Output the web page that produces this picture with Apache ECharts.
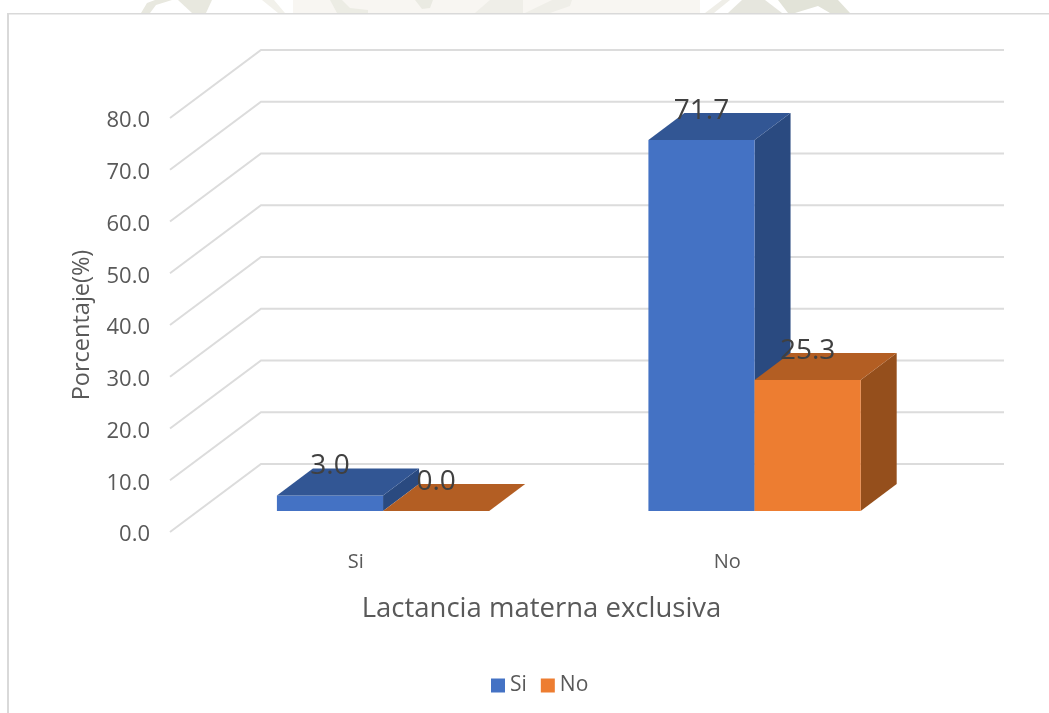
<!DOCTYPE html>
<html>
<head>
<meta charset="utf-8">
<style>html,body{margin:0;padding:0;background:#fff}#chart{width:1049px;height:713px}</style>
<script src="https://cdn.jsdelivr.net/npm/echarts@6/dist/echarts.min.js"></script>
</head>
<body>
<div id="chart"></div>
<script>
// Lactancia materna exclusiva: porcentaje por grupo
const categories = ['Si', 'No'];
const siValues = [3.0, 71.7];
const noValues = [0.0, 25.3];
const valueTicks = [0, 10, 20, 30, 40, 50, 60, 70, 80];

const FONT = '"Open Sans", sans-serif';
// Oblique projection of the box: floor depth, and where the bars stand on it
const WALL_DX = 91, WALL_DY = -68;
const BAR_DX = 27.3, BAR_DY = -21;
const BOX_DX = 36, BOX_DY = -27;
const BAR_SHARE = 0.2857;

function wallLines(params, api) {
  const sys = params.coordSys;
  const y = api.coord([0, api.value(1)])[1];
  return {
    type: 'polyline',
    silent: true,
    shape: {points: [
      [sys.x, y],
      [sys.x + WALL_DX, y + WALL_DY],
      [sys.x + sys.width + WALL_DX, y + WALL_DY]
    ]},
    style: {fill: 'none', stroke: '#dcdcdc', lineWidth: 2}
  };
}

// side: 0 draws the bar left of the category centre, 1 to the right of it
function boxBars(side, front, top, flank) {
  return function (params, api) {
    const base = api.coord([api.value(0), 0]);
    const head = api.coord([api.value(0), api.value(1)]);
    const w = api.size([1, 0])[0] * BAR_SHARE;
    const x0 = base[0] + BAR_DX + (side - 1) * w;
    const x1 = x0 + w;
    const yb = base[1] + BAR_DY;
    const yt = head[1] + BAR_DY;
    const poly = (points, fill) => ({type: 'polygon', shape: {points}, style: {fill}});
    const children = [];
    if (yb - yt > 0) {
      children.push(poly([[x1, yb], [x1 + BOX_DX, yb + BOX_DY], [x1 + BOX_DX, yt + BOX_DY], [x1, yt]], flank));
      children.push(poly([[x0, yb], [x1, yb], [x1, yt], [x0, yt]], front));
    }
    children.push(poly([[x0, yt], [x1, yt], [x1 + BOX_DX, yt + BOX_DY], [x0 + BOX_DX, yt + BOX_DY]], top));
    children.push({
      type: 'text',
      z2: 10,
      style: {
        x: (x0 + x1) / 2,
        y: yt - 29,
        text: api.value(1).toFixed(1),
        font: '28px ' + FONT,
        fill: '#404040',
        align: 'center',
        verticalAlign: 'middle'
      }
    });
    return {type: 'group', children};
  };
}

const chart = echarts.init(document.getElementById('chart'), null, {renderer: 'canvas'});

const faint = (points, fill) => ({type: 'polygon', silent: true, z: -1, shape: {points}, style: {fill}});

chart.setOption({
  animation: false,
  backgroundColor: '#ffffff',
  textStyle: {fontFamily: FONT},
  grid: {left: 170, top: 118, width: 743, height: 414, containLabel: false},
  legend: {
    data: ['Si', 'No'],
    left: 486,
    top: 670,
    icon: 'rect',
    itemWidth: 14,
    itemHeight: 14,
    itemGap: 14,
    textStyle: {fontFamily: FONT, fontSize: 21, color: '#595959'}
  },
  xAxis: {
    type: 'category',
    data: categories,
    axisLine: {show: false},
    axisTick: {show: false},
    axisLabel: {fontFamily: FONT, fontSize: 20, color: '#595959', margin: 20},
    name: 'Lactancia materna exclusiva',
    nameLocation: 'middle',
    nameGap: 63,
    nameTextStyle: {fontFamily: FONT, fontSize: 27.5, color: '#595959'},
    splitLine: {show: false}
  },
  yAxis: {
    type: 'value',
    min: 0,
    max: 80,
    interval: 10,
    axisLine: {show: false},
    axisTick: {show: false},
    splitLine: {show: false},
    axisLabel: {
      fontFamily: FONT, fontSize: 22, color: '#595959', margin: 20,
      verticalAlign: 'top',
      lineHeight: 6,
      formatter: v => v.toFixed(1)
    },
    name: 'Porcentaje(%)',
    nameLocation: 'middle',
    nameRotate: 90,
    nameGap: 76,
    nameTextStyle: {fontFamily: FONT, fontSize: 23.5, color: '#595959'}
  },
  series: [
    {
      name: 'wall',
      type: 'custom',
      silent: true,
      z: 1,
      renderItem: wallLines,
      data: valueTicks.map(t => [0, t])
    },
    {
      name: 'Si',
      type: 'custom',
      z: 2,
      itemStyle: {color: '#4472c4'},
      renderItem: boxBars(0, '#4472c4', '#325694', '#2a4a80'),
      encode: {x: 0, y: 1},
      data: siValues.map((v, i) => [i, v])
    },
    {
      name: 'No',
      type: 'custom',
      z: 3,
      itemStyle: {color: '#ed7d31'},
      renderItem: boxBars(1, '#ed7d31', '#b35e23', '#954f1c'),
      encode: {x: 0, y: 1},
      data: noValues.map((v, i) => [i, v])
    }
  ],
  graphic: [
    // Faded crest behind the chart panel, cut off by its top edge
    faint([[293, 0], [700, 0], [700, 13], [293, 13]], '#f8f6f2'),
    faint([[141, 13], [147, 3], [155, 0], [172, 0], [156, 5], [150, 13]], '#e8e8df'),
    faint([[178, 0], [212, 0], [206, 13], [192, 13]], '#e8e8df'),
    faint([[262, 0], [274, 0], [285, 13], [278, 13]], '#f2f1eb'),
    faint([[330, 0], [342, 0], [350, 8], [368, 10], [368, 13], [337, 13]], '#ecece4'),
    faint([[415, 0], [433, 0], [430, 8], [422, 9]], '#eaeae2'),
    faint([[475, 13], [490, 0], [523, 0], [523, 13]], '#efeee8'),
    faint([[525, 13], [552, 0], [572, 0], [570, 6], [550, 13]], '#efeee8'),
    faint([[728, 13], [742, 0], [765, 0], [782, 13]], '#e6e6de'),
    faint([[705, 13], [722, 0], [730, 0], [714, 13]], '#efeee8'),
    faint([[778, 0], [838, 0], [850, 13], [830, 13], [818, 6], [795, 13], [788, 13]], '#e2e3d8'),
    // Panel edges
    {type: 'rect', silent: true, z: 0, shape: {x: 7, y: 13, width: 1042, height: 1.5}, style: {fill: '#d9d9d9'}},
    {type: 'rect', silent: true, z: 0, shape: {x: 7, y: 13, width: 2, height: 700}, style: {fill: '#d9d9d9'}}
  ]
});
</script>
</body>
</html>
